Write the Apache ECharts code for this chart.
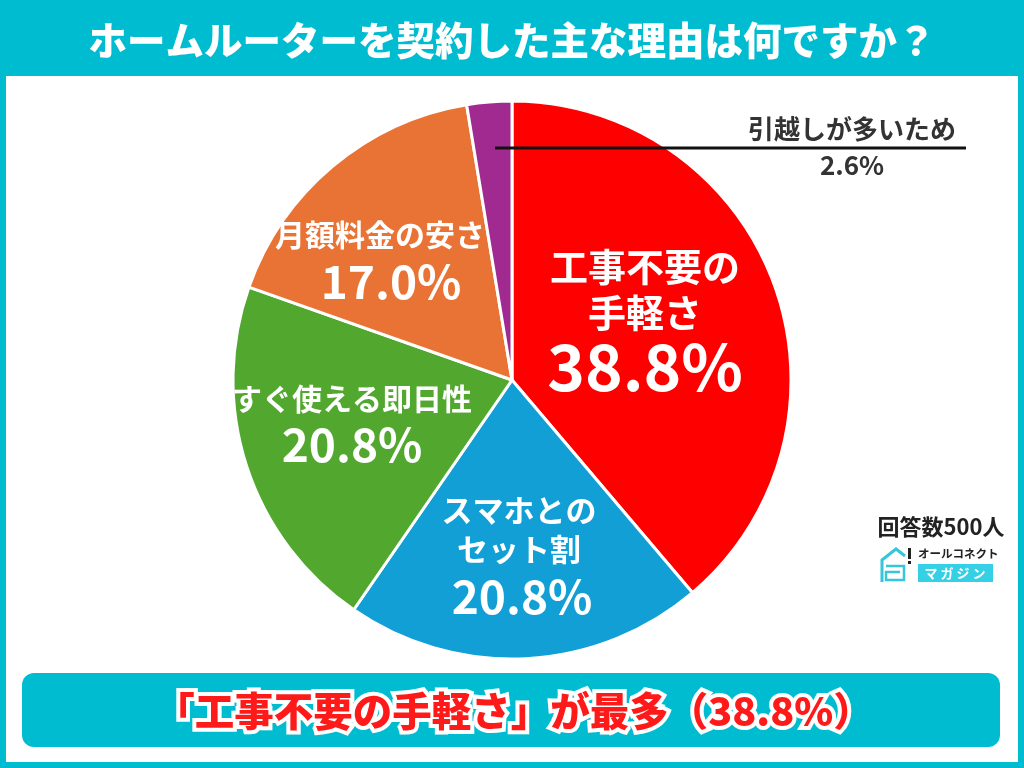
<!DOCTYPE html>
<html>
<head>
<meta charset="utf-8">
<script src="https://cdn.jsdelivr.net/npm/echarts@6/dist/echarts.min.js"></script>
<style>
html,body{margin:0;padding:0;background:#00bcd0;}
#chart{width:1024px;height:768px;}
</style>
</head>
<body>
<div id="chart"></div>
<script>
const titleText = 'ホームルーターを契約した主な理由は何ですか？';
const categories = ['工事不要の手軽さ', 'スマホとのセット割', 'すぐ使える即日性', '月額料金の安さ', '引越しが多いため'];
const labelBreaks = [['工事不要の', '手軽さ'], ['スマホとの', 'セット割'], ['すぐ使える即日性'], ['月額料金の安さ'], ['引越しが多いため']];
const values = [38.8, 20.8, 20.8, 17.0, 2.6];
const colors = ['#ff0000', '#129fd6', '#52a72f', '#e97334', '#a02a8f'];
const respondents = '回答数500人';
const bannerText = '「工事不要の手軽さ」が最多（38.8%）';

const FONT = '"Noto Sans CJK JP", "Noto Sans", sans-serif';

const labelPos = [
  {x: 645, y: 321}, {x: 519, y: 558}, {x: 352, y: 425}, {x: 380, y: 262}, {x: 852, y: 147}
];
const richSets = [
  {n: {fontSize: 38, lineHeight: 46}, p: {fontSize: 64, lineHeight: 62}},
  {n: {fontSize: 31, lineHeight: 39}, p: {fontSize: 46, lineHeight: 56, padding: [0, 0, 0, 6]}},
  {n: {fontSize: 30, lineHeight: 40}, p: {fontSize: 46, lineHeight: 52, padding: [0, 0, 0, 0]}},
  {n: {fontSize: 30, lineHeight: 40}, p: {fontSize: 46, lineHeight: 54, padding: [0, 0, 0, 22]}},
  {n: {fontSize: 26, lineHeight: 36, color: '#333'}, p: {fontSize: 26, lineHeight: 36, color: '#333', padding: [0, 0, 0, 0]}}
];

const data = categories.map((c, i) => {
  const rs = richSets[i];
  const mk = (o) => Object.assign({fontFamily: FONT, fontWeight: 'bold', color: '#fff'}, o);
  return {
    name: c,
    value: values[i],
    itemStyle: {color: colors[i]},
    label: {
      show: true,
      position: i === 4 ? 'outside' : 'inside',
      formatter: labelBreaks[i].map(t => '{n|' + t + '}').join('\n') + '\n{p|' + values[i].toFixed(1) + '%}',
      rich: {n: mk(rs.n), p: mk(rs.p)}
    },
    labelLine: {show: false}
  };
});

const chart = echarts.init(document.getElementById('chart'));
chart.setOption({
  backgroundColor: '#00bcd0',
  animation: false,
  title: {
    text: titleText,
    left: 'center',
    top: 21,
    padding: 0,
    textStyle: {color: '#fff', fontSize: 38.5, fontWeight: 900, fontFamily: FONT}
  },
  graphic: [
    {type: 'rect', z: -10, shape: {x: 6, y: 76, width: 1012, height: 686}, style: {fill: '#ffffff'}},
    {type: 'rect', z: 1, shape: {x: 22, y: 673, width: 978, height: 74, r: 12}, style: {fill: '#00bcd0'}},
    {type: 'text', z: 5, x: 514, y: 711, style: {text: bannerText, fill: '#ff1a1a', stroke: '#ffffff', lineWidth: 8,
      font: '900 39.5px ' + FONT, align: 'center', verticalAlign: 'middle'}},
    {type: 'line', z: 100, shape: {x1: 495, y1: 148, x2: 966, y2: 148}, style: {stroke: '#111', lineWidth: 3}},
    {type: 'text', z: 5, x: 941, y: 527, style: {text: respondents, fill: '#222', font: 'bold 22px ' + FONT, align: 'center', verticalAlign: 'middle'}},
    {type: 'polyline', z: 5, shape: {points: [[882, 582], [882, 560], [896, 549], [905, 556]]}, style: {stroke: '#35c6dc', lineWidth: 3, fill: null}},
    {type: 'polyline', z: 5, shape: {points: [[886, 566], [904, 566], [904, 580], [886, 580], [886, 572], [900, 572]]}, style: {stroke: '#35c6dc', lineWidth: 2.5, fill: null}},
    {type: 'rect', z: 5, shape: {x: 908, y: 548, width: 3, height: 11}, style: {fill: '#222'}},
    {type: 'rect', z: 5, shape: {x: 908, y: 561, width: 3, height: 3}, style: {fill: '#222'}},
    {type: 'text', z: 5, x: 918, y: 554, style: {text: 'オールコネクト', fill: '#222', font: 'bold 11.5px ' + FONT, align: 'left', verticalAlign: 'middle'}},
    {type: 'rect', z: 5, shape: {x: 918, y: 564, width: 75, height: 18}, style: {fill: '#35d0e6'}},
    {type: 'text', z: 6, x: 955, y: 573, style: {text: 'マ ガ ジ ン', fill: '#fff', font: 'bold 13px ' + FONT, align: 'center', verticalAlign: 'middle'}}
  ],
  series: [{
    type: 'pie',
    center: [512, 380],
    radius: 279,
    startAngle: 90,
    clockwise: true,
    avoidLabelOverlap: false,
    emphasis: {disabled: true},
    silent: true,
    itemStyle: {borderColor: '#fff', borderWidth: 3},
    labelLayout: function (p) {
      const lp = labelPos[p.dataIndex];
      return {x: lp.x, y: lp.y, align: 'center', verticalAlign: 'middle'};
    },
    data: data
  }]
});
</script>
</body>
</html>
